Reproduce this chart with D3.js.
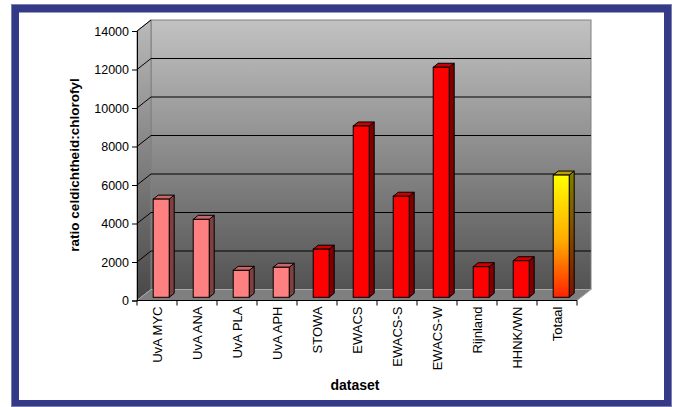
<!DOCTYPE html>
<html>
<head>
<meta charset="utf-8">
<script src="https://cdn.jsdelivr.net/npm/d3@7"></script>
<style>
  html, body { margin: 0; padding: 0; background: #ffffff; }
  svg { display: block; }
  text { font-family: "Liberation Sans", Arial, sans-serif; fill: #000; }
</style>
</head>
<body>
<svg id="chart" width="678" height="407"></svg>
<script>
// Datasets and their ratio cell density : chlorophyll
const categories = ["UvA MYC", "UvA ANA", "UvA PLA", "UvA APH", "STOWA", "EWACS",
                    "EWACS-S", "EWACS-W", "Rijnland", "HHNK/WN", "Totaal"];
const values = [5100, 4050, 1400, 1560, 2500, 8900, 5250, 11950, 1590, 1900, 6350];
// colour group per dataset: lab cultures, field data, overall total
const groups = ["lab", "lab", "lab", "lab", "field", "field", "field", "field", "field", "field", "total"];
const yTicks = [0, 2000, 4000, 6000, 8000, 10000, 12000, 14000];
const yTitle = "ratio celdichtheid:chlorofyl";
const xTitle = "dataset";

const svg = d3.select("#chart");
const defs = svg.append("defs");

// 3D box geometry
const plotLeft = 137, plotRight = 577, plotTop = 31, plotBottom = 300.5;
const depthX = 14, depthY = -11;          // wall depth offset
const barOffX = 4.2, barOffY = -3.2;      // bar placement inside the depth
const barDX = 5, barDY = -4;              // bar thickness in depth
const barW = 16;

const x = d3.scaleBand().domain(categories).range([plotLeft, plotRight]);
const y = d3.scaleLinear().domain([0, 14000]).range([plotBottom, plotTop]);

// outer frame
svg.append("rect").attr("x", 11).attr("y", 4).attr("width", 661).attr("height", 403)
  .attr("fill", "#7b7fb4");
svg.append("rect").attr("x", 12).attr("y", 5).attr("width", 659).attr("height", 401)
  .attr("fill", "#343a86");
svg.append("rect").attr("x", 19).attr("y", 12.5).attr("width", 645).attr("height", 387.5)
  .attr("fill", "#ffffff");

// gradients
const wallGrad = defs.append("linearGradient").attr("id", "wallGrad")
  .attr("gradientUnits", "userSpaceOnUse")
  .attr("x1", 0).attr("y1", plotTop + depthY).attr("x2", 0).attr("y2", plotBottom);
wallGrad.append("stop").attr("offset", 0).attr("stop-color", "#c2c2c2");
wallGrad.append("stop").attr("offset", 1).attr("stop-color", "#4e4e4e");

const sideWallGrad = defs.append("linearGradient").attr("id", "sideWallGrad")
  .attr("gradientUnits", "userSpaceOnUse")
  .attr("x1", 0).attr("y1", plotTop + depthY).attr("x2", 0).attr("y2", plotBottom);
sideWallGrad.append("stop").attr("offset", 0).attr("stop-color", "#bababa");
sideWallGrad.append("stop").attr("offset", 1).attr("stop-color", "#474747");

const totalFront = defs.append("linearGradient").attr("id", "totalFront")
  .attr("x1", 0).attr("y1", 0).attr("x2", 0).attr("y2", 1);
totalFront.append("stop").attr("offset", 0).attr("stop-color", "#ffff00");
totalFront.append("stop").attr("offset", 0.55).attr("stop-color", "#ffa800");
totalFront.append("stop").attr("offset", 1).attr("stop-color", "#ff2200");

const totalSide = defs.append("linearGradient").attr("id", "totalSide")
  .attr("x1", 0).attr("y1", 0).attr("x2", 0).attr("y2", 1);
totalSide.append("stop").attr("offset", 0).attr("stop-color", "#808000");
totalSide.append("stop").attr("offset", 1).attr("stop-color", "#801100");

const palette = {
  lab:   { front: "#ff8080", side: "#804040", top: "#cc6666" },
  field: { front: "#ff0000", side: "#800000", top: "#cc0000" },
  total: { front: "url(#totalFront)", side: "url(#totalSide)", top: "#c0a000" }
};

const pts = arr => arr.map(p => p.join(",")).join(" ");
const yTop = y(14000), y0 = y(0);

// back wall
svg.append("rect")
  .attr("x", plotLeft + depthX).attr("y", yTop + depthY)
  .attr("width", plotRight - plotLeft).attr("height", y0 - yTop)
  .attr("fill", "url(#wallGrad)").attr("stroke", "#808080").attr("stroke-width", 1);

// side wall
svg.append("polygon")
  .attr("points", pts([[plotLeft, yTop], [plotLeft + depthX, yTop + depthY],
                       [plotLeft + depthX, y0 + depthY], [plotLeft, y0]]))
  .attr("fill", "url(#sideWallGrad)").attr("stroke", "#808080").attr("stroke-width", 1);

// gridlines on the back wall and across the side wall
const gridVals = yTicks.filter(v => v > 0 && v < 14000);
svg.append("g").selectAll("line").data(gridVals).join("line")
  .attr("x1", plotLeft + depthX).attr("x2", plotRight + depthX)
  .attr("y1", d => y(d) + depthY).attr("y2", d => y(d) + depthY)
  .attr("stroke", "#000").attr("stroke-width", 1);
svg.append("g").selectAll("line").data(yTicks).join("line")
  .attr("x1", plotLeft).attr("x2", plotLeft + depthX)
  .attr("y1", d => y(d)).attr("y2", d => y(d) + depthY)
  .attr("stroke", d => d === 0 ? "#9a9a9a" : "#000").attr("stroke-width", 1);

// floor
svg.append("polygon")
  .attr("points", pts([[plotLeft, y0], [plotRight, y0],
                       [plotRight + depthX, y0 + depthY], [plotLeft + depthX, y0 + depthY]]))
  .attr("fill", "#7f7f7f").attr("stroke", "#a8a8a8").attr("stroke-width", 1);

// bars
const bars = svg.append("g").selectAll("g").data(categories.map((c, i) => ({
  cat: c, value: values[i], group: groups[i]
}))).join("g");

bars.each(function(d) {
  const g = d3.select(this);
  const col = palette[d.group];
  const bx = x(d.cat) + (x.bandwidth() - barW) / 2 + barOffX;
  const by = y(d.value) + barOffY;
  const bb = y(0) + barOffY;
  g.append("polygon")
    .attr("points", pts([[bx + barW, by], [bx + barW + barDX, by + barDY],
                         [bx + barW + barDX, bb + barDY], [bx + barW, bb]]))
    .attr("fill", col.side).attr("stroke", "#000").attr("stroke-width", 1)
    .attr("stroke-linejoin", "round");
  g.append("polygon")
    .attr("points", pts([[bx, by], [bx + barDX, by + barDY],
                         [bx + barW + barDX, by + barDY], [bx + barW, by]]))
    .attr("fill", col.top).attr("stroke", "#000").attr("stroke-width", 1)
    .attr("stroke-linejoin", "round");
  g.append("rect")
    .attr("x", bx).attr("y", by).attr("width", barW).attr("height", bb - by)
    .attr("fill", col.front).attr("stroke", "#000").attr("stroke-width", 1);
});

// value axis
const yAxis = svg.append("g").attr("transform", `translate(${plotLeft},0)`)
  .call(d3.axisLeft(y).tickValues(yTicks).tickSize(5).tickPadding(3).tickFormat(d3.format("d")));
yAxis.select(".domain").attr("stroke", "#000");
yAxis.selectAll(".tick line").attr("stroke", "#000");
yAxis.selectAll("text").attr("font-size", 12.5).attr("fill", "#000")
  .style("font-family", "'Liberation Sans', Arial, sans-serif");

// category axis
const xAxis = svg.append("g").attr("transform", `translate(0,${y0})`);
xAxis.append("line").attr("x1", plotLeft).attr("x2", plotRight)
  .attr("y1", 0).attr("y2", 0).attr("stroke", "#000");
const bounds = categories.map(c => x(c)).concat([x(categories[categories.length - 1]) + x.bandwidth()]);
xAxis.selectAll(".bt").data(bounds).join("line").attr("class", "bt")
  .attr("x1", d => d).attr("x2", d => d).attr("y1", 0).attr("y2", 5)
  .attr("stroke", "#000");
xAxis.selectAll("text").data(categories).join("text")
  .attr("transform", d => `translate(${x(d) + x.bandwidth() / 2},${6}) rotate(-90)`)
  .attr("dy", "0.35em").attr("text-anchor", "end").attr("font-size", 13)
  .text(d => d);

// axis titles
svg.append("text")
  .attr("transform", `translate(79,165) rotate(-90)`)
  .attr("text-anchor", "middle").attr("font-size", 13.5).attr("font-weight", "bold")
  .text(yTitle);
svg.append("text")
  .attr("x", 355).attr("y", 390)
  .attr("text-anchor", "middle").attr("font-size", 14).attr("font-weight", "bold")
  .text(xTitle);
</script>
</body>
</html>
